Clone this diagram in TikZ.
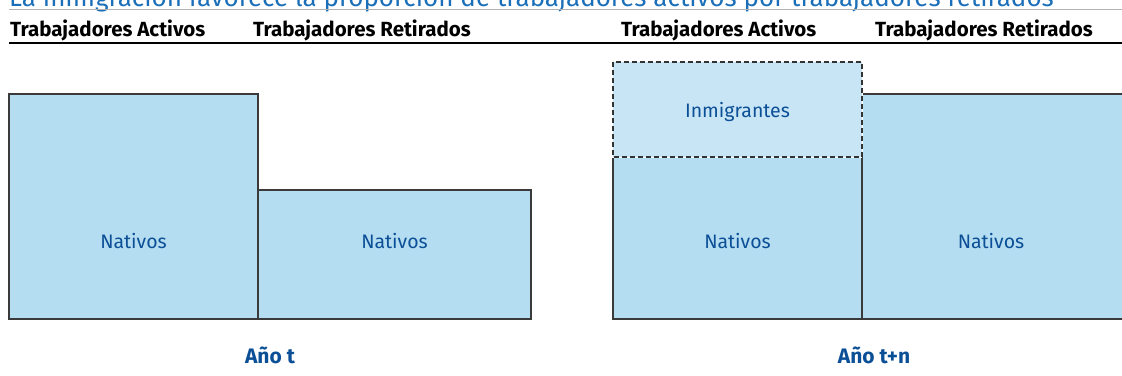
\documentclass[tikz,border=0pt]{standalone}
\usepackage{fontspec}
\setmainfont{Fira Sans}
\definecolor{boxfill}{HTML}{B5DDF2}
\definecolor{immfill}{HTML}{C8E5F6}
\definecolor{txtblue}{HTML}{0B4F96}
\definecolor{titleblue}{HTML}{1B6FB8}
\definecolor{edge}{HTML}{3A3A3A}
\tikzset{
  bar/.style={draw=edge, fill=boxfill, line width=1.2pt},
  immbar/.style={draw=black!80, fill=immfill, dash pattern=on 5pt off 3pt, line width=1.2pt},
  lbl/.style={text=txtblue, font=\fontsize{19.5}{22}\selectfont},
  head/.style={font=\bfseries\fontsize{20.5}{24}\selectfont, anchor=base west, inner sep=0pt},
  year/.style={text=txtblue, font=\bfseries\fontsize{21}{24}\selectfont, anchor=base, inner sep=0pt}
}
\begin{document}
\begin{tikzpicture}[x=1pt,y=-1pt]
\useasboundingbox (0,0) rectangle (1122,375);
\node[anchor=base west, inner sep=0pt, text=titleblue, font=\fontsize{26}{30}\selectfont] (title) at (9,6.5)
  {La inmigración favorece la proporción de trabajadores activos por trabajadores retirados};
\draw[gray!60, line width=0.8pt] (9,9.5) -- (1122,9.5);
\node[head] (h1) at (10,36) {Trabajadores Activos};
\node[head] (h2) at (253,36) {Trabajadores Retirados};
\node[head] (h3) at (621,36) {Trabajadores Activos};
\node[head] (h4) at (875,36) {Trabajadores Retirados};
\draw[black, line width=1.3pt] (9,43) -- (1122,43);
% Year t
\draw[bar] (9,94) rectangle (258,319);
\draw[bar] (258,190) rectangle (531,319);
\node[lbl] (n1) at (133.5,241) {Nativos};
\node[lbl] (n2) at (394.5,241) {Nativos};
% Year t+n
\draw[bar] (613,157) rectangle (862,319);
\fill[boxfill] (862.6,94.6) rectangle (1122,318.4);
\draw[edge, line width=1.2pt] (1122,94) -- (862,94) -- (862,319) -- (1122,319);
\draw[white, line width=1.2pt] (613,62) rectangle (862,157);
\draw[immbar] (613,62) rectangle (862,157);
\node[lbl] (n3) at (737.5,241) {Nativos};
\node[lbl] (imm) at (737.5,112) {Inmigrantes};
\node[lbl] (n4) at (991,241) {Nativos};
\node[year] (y1) at (270,363) {Año t};
\node[year] (y2) at (874,363) {Año t+n};
\end{tikzpicture}
\end{document}
